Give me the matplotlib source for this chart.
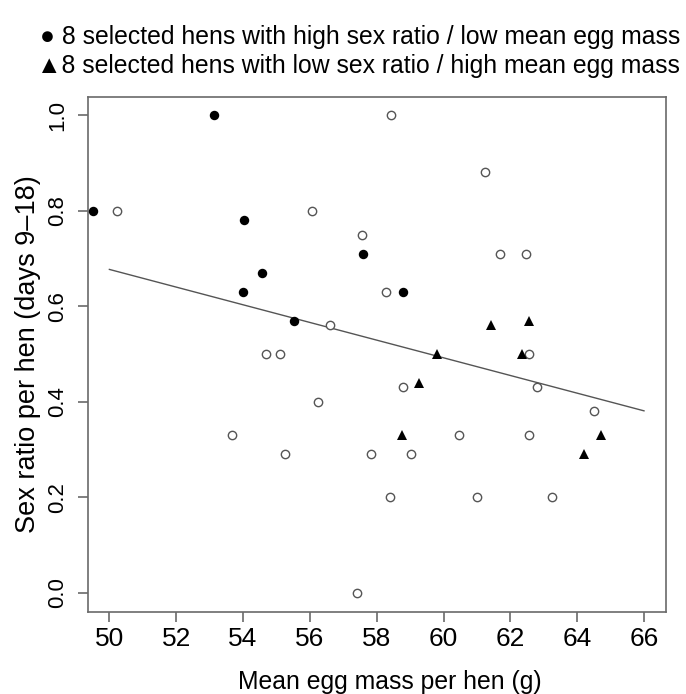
import matplotlib
matplotlib.use('Agg')
import matplotlib.pyplot as plt

# ---- data ----
# other hens (open circles)
open_x = [50.23, 56.06, 57.56, 56.61, 58.43, 61.24, 61.70, 62.46, 58.29, 54.68,
          55.12, 56.25, 53.66, 55.25, 57.84, 57.41, 62.55, 58.80, 62.80, 64.51,
          60.46, 62.56, 59.02, 58.40, 61.00, 63.24]
open_y = [0.80, 0.80, 0.75, 0.56, 1.00, 0.88, 0.71, 0.71, 0.63, 0.50,
          0.50, 0.40, 0.33, 0.29, 0.29, 0.00, 0.50, 0.43, 0.43, 0.38,
          0.33, 0.33, 0.29, 0.20, 0.20, 0.20]

# 8 hens with high sex ratio / low mean egg mass (filled circles)
high_x = [49.50, 53.14, 54.03, 57.58, 54.57, 54.01, 55.52, 58.78]
high_y = [0.80, 1.00, 0.78, 0.71, 0.67, 0.63, 0.57, 0.63]

# 8 hens with low sex ratio / high mean egg mass (filled triangles)
low_x = [61.43, 62.56, 59.80, 62.36, 59.27, 58.76, 64.70, 64.19]
low_y = [0.56, 0.57, 0.50, 0.50, 0.44, 0.33, 0.33, 0.29]

# regression line end points
fit_x = [50, 66]
fit_y = [0.677, 0.381]

x_ticks = [50, 52, 54, 56, 58, 60, 62, 64, 66]
y_ticks = [0.0, 0.2, 0.4, 0.6, 0.8, 1.0]

legend_lines = ['\u25cf 8 selected hens with high sex ratio / low mean egg mass',
                '\u25b28 selected hens with low sex ratio / high mean egg mass']

plt.rcParams['font.family'] = ['Liberation Sans', 'DejaVu Sans']

fig = plt.figure(figsize=(6.86, 6.94), dpi=100)
ax = fig.add_axes([0.1283, 0.1182, 0.8426, 0.7421])

edge_grey = '#6a6a6a'

ax.plot(fit_x, fit_y, color='#555555', linewidth=1.0, zorder=2)
ax.plot(open_x, open_y, linestyle='none', marker='o', markersize=6.0,
        markerfacecolor='white', markeredgecolor='#555555', markeredgewidth=1.0,
        zorder=3, clip_on=False)
ax.plot(high_x, high_y, linestyle='none', marker='o', markersize=6.8,
        color='black', markeredgewidth=0, zorder=4, clip_on=False)
ax.plot(low_x, low_y, linestyle='none', marker='^', markersize=7.8,
        color='black', markeredgewidth=0, zorder=4, clip_on=False)

ax.set_xlim(49.36, 66.66)
ax.set_ylim(-0.040, 1.038)
ax.set_xticks(x_ticks)
ax.set_yticks(y_ticks)
ax.set_xticklabels([str(v) for v in x_ticks], fontsize=19)
ax.set_yticklabels([f'{v:.1f}' for v in y_ticks], fontsize=16, rotation=90,
                   va='center')

for s in ax.spines.values():
    s.set_color(edge_grey)
    s.set_linewidth(1.2)
ax.tick_params(axis='both', direction='out', length=7, width=1.2, color=edge_grey)
ax.tick_params(axis='x', pad=4)
ax.tick_params(axis='y', pad=7)

ax.set_xlabel('Mean egg mass per hen (g)', fontsize=17.8)
ax.xaxis.set_label_coords(0.5225, -0.1136)
ax.set_ylabel('Sex ratio per hen (days 9\u201318)', fontsize=19.5)
ax.yaxis.set_label_coords(-0.082, 0.5)

fig.text(680 / 686, 1 - 44 / 694, legend_lines[0], fontsize=17.8,
         ha='right', va='baseline')
fig.text(680 / 686, 1 - 73 / 694, legend_lines[1], fontsize=17.8,
         ha='right', va='baseline')

fig.savefig('out.png', dpi=100, facecolor='white')
